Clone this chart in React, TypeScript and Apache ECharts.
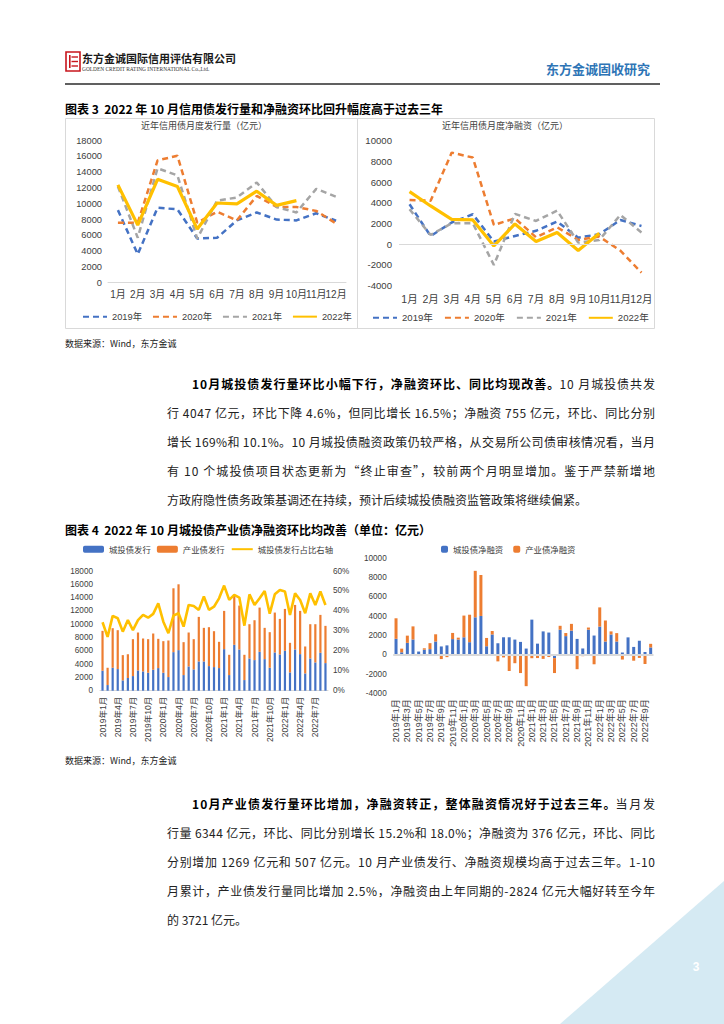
import React, { useEffect, useRef } from "react";
import * as echarts from "echarts";

const FONT = '"Liberation Sans", "Noto Sans CJK SC", sans-serif';
const CJK = '"Noto Sans CJK SC", "Liberation Sans", sans-serif';

const months = ["1月", "2月", "3月", "4月", "5月", "6月", "7月", "8月", "9月", "10月", "11月", "12月"];
const yearNames = ["2019年", "2020年", "2021年", "2022年"];

// 近年信用债月度发行量（亿元）
const issue2019 = [9200, 3600, 9500, 9300, 5600, 5700, 7900, 8900, 8000, 7900, 8800, 7850];
const issue2020 = [7600, 7600, 15500, 16100, 7600, 9000, 7900, 11000, 9600, 9600, 9100, 7500];
const issue2021 = [12200, 5700, 14500, 13600, 5600, 10400, 10800, 12700, 9600, 8900, 11900, 10900];
const issue2022 = [12400, 7300, 13100, 12200, 6800, 10100, 10000, 11600, 9800, 10400];

// 近年信用债月度净融资（亿元）
const net2019 = [3860, 800, 2100, 2900, 260, 800, 1300, 2200, 640, 970, 2350, 1770];
const net2020 = [4280, 4200, 8850, 8370, 1870, 2500, 680, 1640, 420, 740, -610, -2740];
const net2021 = [3380, 900, 2030, 2030, -2000, 2930, 2250, 3250, 160, 420, 2830, 1130];
const net2022 = [5080, 3700, 2410, 2350, -160, 1960, 260, 1130, -610, 1060];

// 月份类目 2019年1月 - 2022年10月
const monthLabels = [
  "2019年1月", "2019年2月", "2019年3月", "2019年4月", "2019年5月", "2019年6月",
  "2019年7月", "2019年8月", "2019年9月", "2019年10月", "2019年11月", "2019年12月",
  "2020年1月", "2020年2月", "2020年3月", "2020年4月", "2020年5月", "2020年6月",
  "2020年7月", "2020年8月", "2020年9月", "2020年10月", "2020年11月", "2020年12月",
  "2021年1月", "2021年2月", "2021年3月", "2021年4月", "2021年5月", "2021年6月",
  "2021年7月", "2021年8月", "2021年9月", "2021年10月", "2021年11月", "2021年12月",
  "2022年1月", "2022年2月", "2022年3月", "2022年4月", "2022年5月", "2022年6月",
  "2022年7月", "2022年8月", "2022年9月", "2022年10月",
];
const issueMonths = monthLabels.slice(0, 45);
const netMonths = monthLabels;

// 城投债 / 产业债 发行（亿元）及城投债发行占比（%）
const cityIssue = [3000, 850, 3450, 3250, 1550, 1900, 2200, 3050, 2900, 2700, 3150, 3400, 2700, 2050, 5800, 6100, 2350, 3650, 3200, 4400, 4400, 3700, 3550, 3400, 6250, 2350, 6900, 6200, 1600, 4850, 4600, 5850, 4750, 3450, 5750, 5450, 6000, 2750, 6200, 5500, 2600, 4850, 4250, 5700, 4150];
const indIssue = [6000, 2600, 5950, 5850, 3800, 3600, 5550, 5700, 4950, 5050, 5450, 4400, 4750, 5500, 9600, 9900, 4950, 5100, 4550, 6700, 5050, 5850, 5400, 3950, 5750, 3050, 7350, 6600, 3800, 5150, 6000, 6650, 4700, 5350, 6000, 5350, 6300, 4450, 6700, 6500, 4050, 5150, 5750, 5700, 5600];
const cityShare = [34.3, 27, 37.5, 36.3, 29.6, 35.4, 30.4, 35.4, 38, 36.6, 38.5, 43.8, 34.6, 28.8, 37.6, 38.8, 32.1, 43, 42.5, 40.5, 47.2, 40.5, 42.1, 46.3, 52.7, 45.5, 48, 46.7, 32.6, 48.3, 43, 46.3, 50, 38.6, 48.3, 50.5, 49.7, 38, 48.8, 45.5, 38.8, 48.8, 43, 49.7, 43];

// 城投债 / 产业债 净融资（亿元）
const cityNet = [1650, 250, 1230, 1580, 330, 520, 580, 1370, 860, 970, 1620, 1570, 1810, 1300, 3880, 4020, 880, 2100, 1190, 1810, 1810, 1570, 1330, 640, 3640, 1150, 2420, 2300, -350, 2600, 1930, 2500, 1640, 650, 2600, 1990, 2920, 1370, 2100, 1370, 230, 1800, 810, 1450, 281, 755];
const indNet = [2130, 380, 750, 1360, -140, 150, 620, 750, -450, -250, 640, 200, 2250, 2850, 4820, 4250, 860, 360, -690, -280, -1690, -880, -1900, -3260, -360, -345, -430, -240, -1550, 400, 320, 700, -1500, -150, 220, -990, 1990, 2180, 320, 870, -500, 0, -620, -330, -960, 376];

const BLUE = "#4472C4";
const ORANGE = "#ED7D31";
const GRAY = "#A5A5A5";
const YELLOW = "#FFC000";
const AXIS_TXT = "#404040";

const p1Bold = "10月城投债发行量环比小幅下行，净融资环比、同比均现改善。";
const p1Lead = "10 月城投债共发";
const para1 = [
  "行 4047 亿元，环比下降 4.6%，但同比增长 16.5%；净融资 755 亿元，环比、同比分别",
  "增长 169%和 10.1%。10 月城投债融资政策仍较严格，从交易所公司债审核情况看，当月",
  "有 10 个城投债项目状态更新为“终止审查”，较前两个月明显增加。鉴于严禁新增地",
  "方政府隐性债务政策基调还在持续，预计后续城投债融资监管政策将继续偏紧。",
];
const p2Bold = "10月产业债发行量环比增加，净融资转正，整体融资情况好于过去三年。";
const p2Lead = "当月发";
const para2 = [
  "行量 6344 亿元，环比、同比分别增长 15.2%和 18.0%；净融资为 376 亿元，环比、同比",
  "分别增加 1269 亿元和 507 亿元。10 月产业债发行、净融资规模均高于过去三年。1-10",
  "月累计，产业债发行量同比增加 2.5%，净融资由上年同期的-2824 亿元大幅好转至今年",
  "的 3721 亿元。",
];

function txt(x: number, y: number, text: string, o: any = {}) {
  return {
    type: "text",
    x,
    y,
    silent: true,
    z: 10,
    style: {
      text,
      fontSize: o.size ?? 12,
      fontFamily: o.family ?? CJK,
      fontWeight: o.weight ?? "normal",
      fill: o.fill ?? "#222",
      align: o.align ?? "left",
      textAlign: o.align ?? "left",
      verticalAlign: "middle",
      textVerticalAlign: "middle",
    },
  };
}

function lineSeries(name: string, data: number[], color: string, dashed: boolean, axis: number) {
  return {
    name,
    type: "line",
    xAxisIndex: axis,
    yAxisIndex: axis,
    data,
    symbol: "none",
    smooth: false,
    lineStyle: { color, width: dashed ? 2.5 : 3.2, type: dashed ? [6, 4] : "solid" },
    itemStyle: { color },
    z: dashed ? 2 : 3,
  };
}

const plain = (v: number) => String(v);

let measureCtx: CanvasRenderingContext2D | null = null;
function measure(s: string, font: string) {
  if (!measureCtx) measureCtx = document.createElement("canvas").getContext("2d");
  if (!measureCtx) return s.length * 12;
  measureCtx.font = font;
  return measureCtx.measureText(s).width;
}

export default function App() {
  const ref = useRef<HTMLDivElement>(null);
  useEffect(() => {
    document.body.style.margin = "0";
    const chart = echarts.init(ref.current!, null, { renderer: "svg" });

    const BODY = 12;
    const LEFT0 = 167;
    const LEFT1 = 192;
    const RIGHT = 655;
    const bodyFont = (w: string) => `${w} ${BODY}px "Noto Sans CJK SC"`;
    const justify = new Map<string, number>();

    const graphic: any[] = [];
    // page decoration
    graphic.push({
      type: "polygon",
      silent: true,
      z: 0,
      shape: { points: [[560, 1024], [724, 881], [724, 1024]] },
      style: { fill: "#d5eaf3" },
    });
    graphic.push(txt(696, 967, "3", { size: 12, weight: "bold", fill: "#ffffff", family: FONT, align: "center" }));
    // logo
    graphic.push({ type: "rect", silent: true, shape: { x: 66, y: 52, width: 14, height: 19 }, style: { fill: "none", stroke: "#c8161d", lineWidth: 1.6 } });
    graphic.push({ type: "rect", silent: true, shape: { x: 69, y: 55, width: 1.6, height: 13 }, style: { fill: "#c8161d" } });
    [57, 61.5, 66].forEach((yy) =>
      graphic.push({ type: "line", silent: true, shape: { x1: 71.5, y1: yy, x2: 78, y2: yy }, style: { stroke: "#c8161d", lineWidth: 1.4 } })
    );
    graphic.push(txt(82, 58, "东方金诚国际信用评估有限公司", { size: 11, weight: "bold", fill: "#1a1a1a" }));
    graphic.push(txt(82, 68.5, "GOLDEN CREDIT RATING INTERNATIONAL Co.,Ltd.", { size: 5.4, family: '"Liberation Serif", serif', fill: "#333" }));
    graphic.push(txt(650, 68, "东方金诚固收研究", { size: 13, weight: "bold", fill: "#2e75b6", align: "right" }));
    graphic.push({ type: "line", silent: true, shape: { x1: 65, y1: 84, x2: 660, y2: 84 }, style: { stroke: "#2b2b2b", lineWidth: 1.6 } });

    // figure 3
    graphic.push(txt(65, 108, "图表 3  2022 年 10 月信用债发行量和净融资环比回升幅度高于过去三年", { size: 12, weight: "bold", fill: "#000" }));
    graphic.push({ type: "rect", silent: true, z: 0, shape: { x: 65.5, y: 118.5, width: 292, height: 210 }, style: { fill: "none", stroke: "#d9d9d9", lineWidth: 1 } });
    graphic.push({ type: "rect", silent: true, z: 0, shape: { x: 357.5, y: 118.5, width: 297, height: 210 }, style: { fill: "none", stroke: "#d9d9d9", lineWidth: 1 } });
    graphic.push(txt(204, 125.5, "近年信用债月度发行量（亿元）", { size: 9, fill: "#404040", align: "center" }));
    graphic.push(txt(505, 125.5, "近年信用债月度净融资（亿元）", { size: 9, fill: "#404040", align: "center" }));
    graphic.push(txt(65, 343, "数据来源：Wind，东方金诚", { size: 9, fill: "#222" }));

    const paragraph = (y0: number, boldText: string, lead: string, lines: string[]) => {
      const wb = measure(boldText, bodyFont("bold"));
      const wn = measure(lead, bodyFont("normal"));
      const k = (RIGHT - LEFT1) / (wb + wn);
      graphic.push(txt(LEFT1, y0, boldText, { size: BODY, weight: "bold", fill: "#000" }));
      graphic.push(txt(LEFT1 + wb * k, y0, lead, { size: BODY }));
      justify.set(boldText, wb * k);
      justify.set(lead, wn * k);
      lines.forEach((s, i) => {
        graphic.push(txt(LEFT0, y0 + 29 * (i + 1), s, { size: BODY }));
        if (i < lines.length - 1) justify.set(s, RIGHT - LEFT0);
      });
    };

    paragraph(383, p1Bold, p1Lead, para1);

    // figure 4
    graphic.push(txt(65, 529, "图表 4  2022 年 10 月城投债产业债净融资环比均改善（单位：亿元）", { size: 12, weight: "bold", fill: "#000" }));
    graphic.push(txt(65, 760, "数据来源：Wind，东方金诚", { size: 9, fill: "#222" }));

    paragraph(803, p2Bold, p2Lead, para2);

    const catLabel = (o: any) => ({ color: AXIS_TXT, fontFamily: FONT, ...o });

    const option: any = {
      animation: false,
      backgroundColor: "#ffffff",
      textStyle: { fontFamily: FONT },
      grid: [
        { left: 108, top: 140.7, width: 238, height: 142 },
        { left: 399, top: 140.7, width: 253, height: 145 },
        { left: 100, top: 571, width: 228, height: 119.7 },
        { left: 393.2, top: 558.3, width: 260.3, height: 135 },
      ],
      xAxis: [
        {
          gridIndex: 0, type: "category", data: months,
          axisLine: { lineStyle: { color: "#d9d9d9" } }, axisTick: { show: false },
          axisLabel: catLabel({ interval: 0, fontSize: 10, margin: 7 }),
        },
        {
          gridIndex: 1, type: "category", data: months,
          axisLine: { show: false, onZero: false }, axisTick: { show: false },
          axisLabel: catLabel({ interval: 0, fontSize: 10.5, margin: 8 }),
        },
        {
          gridIndex: 2, type: "category", data: issueMonths,
          axisLine: { lineStyle: { color: "#d9d9d9" } }, axisTick: { show: false },
          axisLabel: catLabel({ interval: 2, rotate: 90, fontSize: 8.5, margin: 6 }),
        },
        {
          gridIndex: 3, type: "category", data: netMonths,
          axisLine: { show: false, onZero: false }, axisTick: { show: false },
          axisLabel: catLabel({ interval: 1, rotate: 90, fontSize: 9, margin: 6 }),
        },
      ],
      yAxis: [
        {
          gridIndex: 0, type: "value", min: 0, max: 18000, interval: 2000,
          splitLine: { show: false }, axisLine: { show: false }, axisTick: { show: false },
          axisLabel: catLabel({ fontSize: 9.3, margin: 6, formatter: plain }),
        },
        {
          gridIndex: 1, type: "value", min: -4000, max: 10000, interval: 2000,
          splitLine: { show: false }, axisLine: { show: false }, axisTick: { show: false },
          axisLabel: catLabel({ fontSize: 9.6, margin: 7, formatter: plain }),
        },
        {
          gridIndex: 2, type: "value", min: 0, max: 18000, interval: 2000,
          splitLine: { show: false }, axisLine: { show: false }, axisTick: { show: false },
          axisLabel: catLabel({ fontSize: 8.2, margin: 7, formatter: plain }),
        },
        {
          gridIndex: 2, type: "value", position: "right", min: 0, max: 60, interval: 10,
          splitLine: { show: false }, axisLine: { show: false }, axisTick: { show: false },
          axisLabel: catLabel({ fontSize: 8.2, margin: 5, formatter: "{value}%" }),
        },
        {
          gridIndex: 3, type: "value", min: -4000, max: 10000, interval: 2000,
          splitLine: { show: false }, axisLine: { show: false }, axisTick: { show: false },
          axisLabel: catLabel({ fontSize: 8.2, margin: 6.5, formatter: plain }),
        },
      ],
      legend: [
        {
          data: yearNames, left: 82, top: 312, padding: 0, itemWidth: 24, itemHeight: 10, itemGap: 10,
          itemStyle: { opacity: 0 },
          textStyle: { fontSize: 9.3, color: AXIS_TXT, fontFamily: FONT },
          selectedMode: false,
        },
        {
          data: yearNames, left: 372, top: 313, padding: 0, itemWidth: 24, itemHeight: 10, itemGap: 11,
          itemStyle: { opacity: 0 },
          textStyle: { fontSize: 9.6, color: AXIS_TXT, fontFamily: FONT },
          selectedMode: false,
        },
        {
          data: [
            "城投债发行",
            "产业债发行",
            { name: "城投债发行占比右轴", itemStyle: { opacity: 0 } },
          ],
          left: 83, top: 545, padding: 0,
          itemWidth: 21, itemHeight: 7, itemGap: 6,
          textStyle: { fontSize: 8.4, color: AXIS_TXT, fontFamily: CJK },
          selectedMode: false,
        },
        {
          data: ["城投债净融资", "产业债净融资"], left: 441, top: 545, padding: 0,
          itemWidth: 7, itemHeight: 7, itemGap: 10,
          textStyle: { fontSize: 8.4, color: AXIS_TXT, fontFamily: CJK },
          selectedMode: false,
        },
      ],
      series: [
        lineSeries("2019年", issue2019, BLUE, true, 0),
        lineSeries("2020年", issue2020, ORANGE, true, 0),
        lineSeries("2021年", issue2021, GRAY, true, 0),
        lineSeries("2022年", issue2022, YELLOW, false, 0),
        {
          ...lineSeries("2019年", net2019, BLUE, true, 1),
          markLine: {
            silent: true, symbol: ["none", "none"], label: { show: false },
            lineStyle: { color: "#d9d9d9", width: 1, type: "solid" },
            data: [{ yAxis: 0 }],
          },
        },
        lineSeries("2020年", net2020, ORANGE, true, 1),
        lineSeries("2021年", net2021, GRAY, true, 1),
        lineSeries("2022年", net2022, YELLOW, false, 1),
        {
          name: "城投债发行", type: "bar", xAxisIndex: 2, yAxisIndex: 2, stack: "issue",
          data: cityIssue, barWidth: 2.2, itemStyle: { color: BLUE },
        },
        {
          name: "产业债发行", type: "bar", xAxisIndex: 2, yAxisIndex: 2, stack: "issue",
          data: indIssue, barWidth: 2.2, itemStyle: { color: ORANGE },
        },
        {
          name: "城投债发行占比右轴", type: "line", xAxisIndex: 2, yAxisIndex: 3,
          data: cityShare, symbol: "none", lineStyle: { color: YELLOW, width: 2.6 },
          itemStyle: { color: YELLOW }, z: 5,
        },
        {
          name: "城投债净融资", type: "bar", xAxisIndex: 3, yAxisIndex: 4, stack: "net",
          data: cityNet, barWidth: 3, itemStyle: { color: BLUE },
          markLine: {
            silent: true, symbol: ["none", "none"], label: { show: false },
            lineStyle: { color: "#d9d9d9", width: 2, type: "solid" },
            data: [{ yAxis: 0 }],
          },
        },
        {
          name: "产业债净融资", type: "bar", xAxisIndex: 3, yAxisIndex: 4, stack: "net",
          data: indNet, barWidth: 3, itemStyle: { color: ORANGE },
        },
      ],
      graphic,
    };

    const applyJustify = () => {
      const root = ref.current;
      if (!root) return;
      root.querySelectorAll("text").forEach((t) => {
        const len = justify.get((t.textContent || "").trim());
        if (len && len > 0) {
          t.setAttribute("textLength", String(len));
          t.setAttribute("lengthAdjust", "spacing");
        }
      });
    };
    chart.on("finished", applyJustify);
    chart.setOption(option);
    applyJustify();
    const timer = window.setTimeout(applyJustify, 50);
    return () => {
      window.clearTimeout(timer);
      chart.dispose();
    };
  }, []);
  return <div ref={ref} style={{ width: 724, height: 1024 }} />;
}
